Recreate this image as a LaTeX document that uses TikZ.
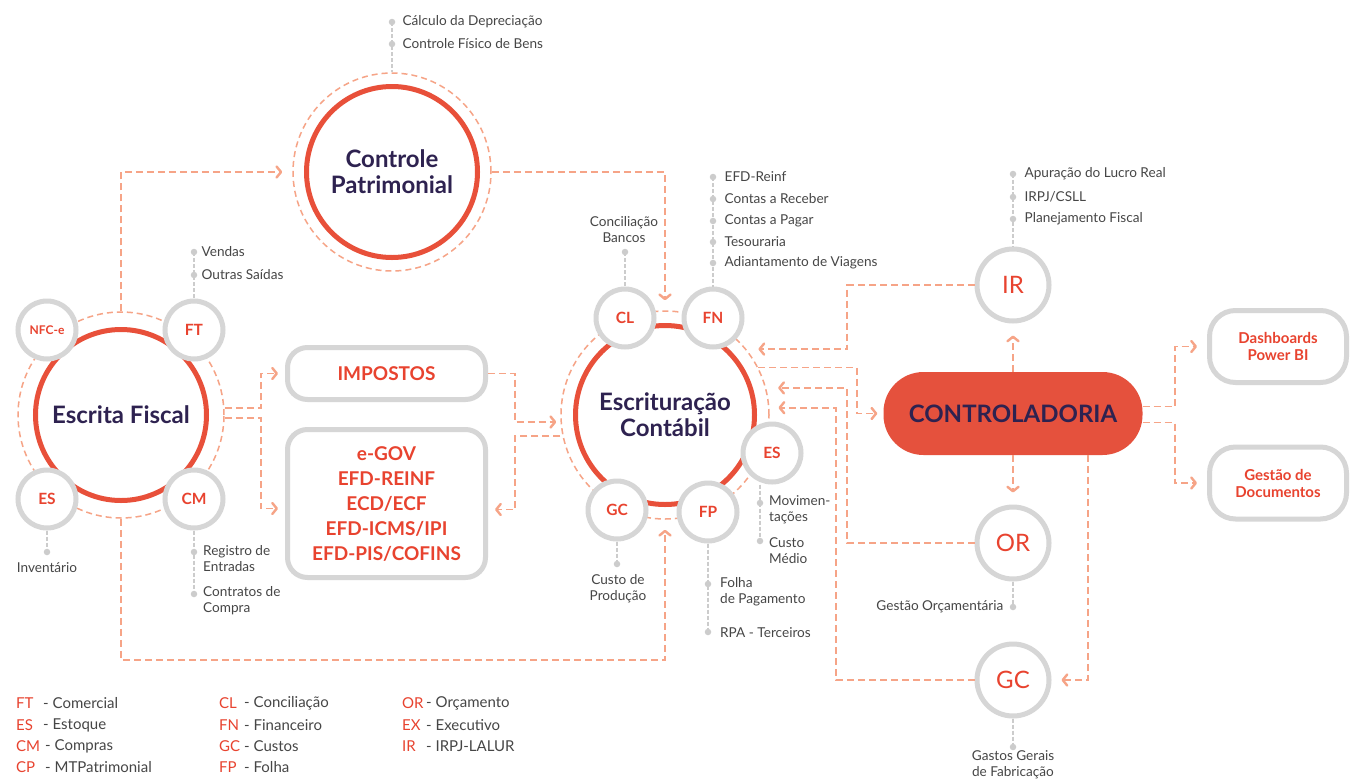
\documentclass[tikz,border=0pt]{standalone}
\usepackage{fontspec}
\setmainfont{Lato}
\usetikzlibrary{arrows.meta}
\definecolor{cred}{HTML}{E8503A}
\definecolor{cfill}{HTML}{E5513D}
\definecolor{csal}{HTML}{F6A487}
\definecolor{cring}{HTML}{D6D6D6}
\definecolor{ctxt}{HTML}{464646}
\definecolor{cpur}{HTML}{2E2250}
\definecolor{clab}{HTML}{E8432F}
\definecolor{cdot}{HTML}{CCCCCC}
\newcommand\myfs[2]{\fontsize{#1}{#2}\selectfont}
\tikzset{
 dring/.style={circle, draw=csal, line width=1.5pt, dash pattern=on 6pt off 4pt, minimum size=#1, inner sep=0pt},
 rring/.style={circle, draw=cred, line width=5pt, minimum size=#1, inner sep=0pt, text=cpur, font=\myfs{24}{26}\bfseries, align=center},
 sring/.style={circle, draw=cring, line width=5pt, fill=white, minimum size=58pt, inner sep=0pt, text=clab, font=\myfs{15.5}{17}\bfseries},
 lring/.style={circle, draw=cring, line width=5pt, fill=white, minimum size=72pt, inner sep=0pt, text=clab, font=\myfs{24}{26}},
 gbox/.style={draw=cring, line width=5pt, rounded corners=20pt, fill=white, text=clab, font=\myfs{19}{25}\bfseries, align=center, inner sep=0pt},
 conn/.style={draw=csal, line width=1.6pt, dash pattern=on 7pt off 4pt, -{Straight Barb[length=4.5pt,width=11pt,line width=2.4pt,round]}, shorten >=#1},
 conn/.default=6pt,
 glink/.style={draw=cdot, line width=1.2pt, dash pattern=on 4pt off 2pt},
 gdot/.style={circle, fill=cdot, minimum size=6.5pt, inner sep=0pt},
 lab/.style={text=ctxt, font=\myfs{13.6}{16}, inner sep=0pt, align=left},
 labc/.style={lab, align=center},
 leg/.style={font=\myfs{15}{17}, inner sep=0pt, anchor=west},
}
\begin{document}
\begin{tikzpicture}[x=1pt,y=-1pt]
\fill[white] (0,0) rectangle (1352,780);
\useasboundingbox (0,0) rectangle (1352,780);

% big rings
\node[dring=198pt] (CPo) at (392,172) {};
\node[rring=171pt] (CP) at (392,172) {Controle\\Patrimonial};
\node[dring=206pt] (EFo) at (121,415) {};
\node[rring=171pt] (EF) at (121,415) {Escrita Fiscal};
\node[dring=208pt] (ECo) at (665,415) {};
\node[rring=179pt] (EC) at (665,415) {Escrituração\\Contábil};

% boxes
\node[gbox, minimum width=198pt, minimum height=52pt] (IMP) at (386.5,373.5) {IMPOSTOS};
\node[gbox, minimum width=198pt, minimum height=148pt] (GOV) at (386.5,503.5) {e-GOV\\EFD-REINF\\ECD/ECF\\EFD-ICMS/IPI\\EFD-PIS/COFINS};
\node[fill=cfill, rounded corners=40pt, minimum width=259pt, minimum height=83pt, text=cpur, font=\myfs{24}{26}\bfseries, inner sep=0pt] (CTRL) at (1013,413.5) {CONTROLADORIA};
\node[gbox, rounded corners=26pt, minimum width=137pt, minimum height=72pt, font=\myfs{15}{17}\bfseries] (DB) at (1278,346.5) {Dashboards\\Power BI};
\node[gbox, rounded corners=26pt, minimum width=137pt, minimum height=72pt, font=\myfs{15}{17}\bfseries] (GD) at (1278,483) {Gestão de\\Documentos};

% right-side rings
\node[lring] (IR) at (1013,285) {IR};
\node[lring] (OR) at (1013,543) {OR};
\node[lring] (GC2) at (1013,680) {GC};

% buses
\coordinate (busA) at (847,0);
\coordinate (busB) at (836,0);
\coordinate (busC) at (857,0);
\coordinate (busD) at (1088,0);

% connectors
\draw[conn=10pt] (EFo.north) |- (CPo.west);
\draw[conn=10pt] (CPo.east) -| (ECo.north);
\draw[conn=10pt] (EFo.south) -- ++(0,141) -| (ECo.south);
\draw[conn=7pt] ([yshift=7pt]EFo.east) -- ++(36,0) |- (IMP.west);
\draw[conn=7pt] ([yshift=-3pt]EFo.east) -- ++(36,0) |- ([yshift=-5pt]GOV.west);
\draw[conn=4pt] (IMP.east) -- ++(27,0) |- ([yshift=-7pt]ECo.west);
\draw[conn=7pt] ([yshift=-21pt]ECo.west) -- ++(-45,0) |- ([yshift=-6pt]GOV.east);
\draw[conn=12pt] (IR.west) -- (IR.west -| busA) |- (ECo.39);
\draw[conn=6pt] (ECo.27) -- (ECo.27 -| busC) |- (CTRL.west);
\draw[conn=12pt] (OR.west) -- (OR.west -| busA) |- (ECo.15);
\draw[conn=9pt] (GC2.west) -- (GC2.west -| busB) |- (ECo.4);
\draw[conn=12pt] (CTRL.north) -- (IR.south);
\draw[conn=12pt] (CTRL.south) -- (OR.north);
\draw[conn=10pt] (CTRL.south -| busD) |- (GC2.east);
\draw[conn=10pt] ([yshift=7pt]CTRL.east) -- ++(32,0) |- (DB.west);
\draw[conn=10pt] ([yshift=-9pt]CTRL.east) -- ++(32,0) |- (GD.west);

% small rings
\node[sring, font=\myfs{12}{14}\bfseries] (NFC) at (47,330) {NFC-e};
\node[sring] (FT) at (194,330) {FT};
\node[sring] (ES1) at (47,499) {ES};
\node[sring] (CM) at (194,499) {CM};
\node[sring] (CL) at (625,318) {CL};
\node[sring] (FN) at (713,318) {FN};
\node[sring] (ES2) at (772,453) {ES};
\node[sring] (GC) at (617,510) {GC};
\node[sring] (FP) at (708,512) {FP};

% label links
\coordinate (cpd1c) at (392,22);
\coordinate (ftd1c) at (194,252);
\coordinate (esdc) at (47,552);
\coordinate (cmd2c) at (194,594);
\coordinate (cldc) at (625,252);
\coordinate (fnd1c) at (713,177);
\coordinate (esd1c) at (760,503);
\coordinate (esd2c) at (760,541);
\coordinate (gcdc) at (617,564);
\coordinate (fpd2c) at (708,632);
\coordinate (ird1c) at (1013,174);
\coordinate (ordc) at (1013,607);
\coordinate (gc2dc) at (1013,747);
\draw[glink] (cpd1c) -- (CPo.north);
\draw[glink] (ftd1c) -- (FT.north);
\draw[glink] (ES1.south) -- (esdc);
\draw[glink] (CM.south) -- (cmd2c);
\draw[glink] (cldc) -- (CL.north);
\draw[glink] (fnd1c) -- (FN.north);
\draw[glink] (ES2.south -| esd1c) -- (esd2c);
\draw[glink] (GC.south) -- (gcdc);
\draw[glink] (FP.south) -- (fpd2c);
\draw[glink] (ird1c) -- (IR.north);
\draw[glink] (OR.south) -- (ordc);
\draw[glink] (GC2.south) -- (gc2dc);

% label dots
\node[gdot] (cpd1) at (392,22) {};
\node[gdot] (cpd2) at (392,44) {};
\node[gdot] (ftd1) at (194,252) {};
\node[gdot] (ftd2) at (194,275) {};
\node[gdot] (esd) at (47,552) {};
\node[gdot] (cmd1) at (194,552) {};
\node[gdot] (cmd2) at (194,594) {};
\node[gdot] (cld) at (625,252) {};
\node[gdot] (fnd1) at (713,177) {};
\node[gdot] (fnd2) at (713,199) {};
\node[gdot] (fnd3) at (713,221) {};
\node[gdot] (fnd4) at (713,242) {};
\node[gdot] (fnd5) at (713,263) {};
\node[gdot] (esd1) at (760,503) {};
\node[gdot] (esd2) at (760,541) {};
\node[gdot] (gcd) at (617,564) {};
\node[gdot] (fpd1) at (708,584) {};
\node[gdot] (fpd2) at (708,632) {};
\node[gdot] (ird1) at (1013,174) {};
\node[gdot] (ird2) at (1013,197) {};
\node[gdot] (ird3) at (1013,219) {};
\node[gdot] (ord) at (1013,607) {};
\node[gdot] (gc2d) at (1013,747) {};

% label texts
\node[lab, anchor=west] at ([xshift=7pt]cpd1.east) {Cálculo da Depreciação};
\node[lab, anchor=west] at ([xshift=7pt]cpd2.east) {Controle Físico de Bens};
\node[lab, anchor=west] at ([xshift=4pt]ftd1.east) {Vendas};
\node[lab, anchor=west] at ([xshift=4pt]ftd2.east) {Outras Saídas};
\node[labc] at (47,568) {Inventário};
\node[lab, anchor=west] at (203,559) {Registro de\\Entradas};
\node[lab, anchor=west] at (203,601) {Contratos de\\Compra};
\node[labc] at (624,230) {Conciliação\\Bancos};
\node[lab, anchor=west] at ([xshift=8pt]fnd1.east) {EFD-Reinf};
\node[lab, anchor=west] at ([xshift=8pt]fnd2.east) {Contas a Receber};
\node[lab, anchor=west] at ([xshift=8pt]fnd3.east) {Contas a Pagar};
\node[lab, anchor=west] at ([xshift=8pt]fnd4.east) {Tesouraria};
\node[lab, anchor=west] at ([xshift=8pt]fnd5.east) {Adiantamento de Viagens};
\node[lab, anchor=west] at (769,510) {Movimen-\\tações};
\node[lab, anchor=west] at (769,551) {Custo\\Médio};
\node[labc] at (618,589) {Custo de\\Produção};
\node[lab, anchor=west] at (720,592) {Folha\\de Pagamento};
\node[lab, anchor=west] at (720,633) {RPA - Terceiros};
\node[lab, anchor=west] at ([xshift=8pt]ird1.east) {Apuração do Lucro Real};
\node[lab, anchor=west] at ([xshift=8pt]ird2.east) {IRPJ/CSLL};
\node[lab, anchor=west] at ([xshift=8pt]ird3.east) {Planejamento Fiscal};
\node[lab, anchor=east] at ([xshift=-6pt]ord.west) {Gestão Orçamentária};
\node[labc] at (1013,765) {Gastos Gerais\\de Fabricação};

% legend
\node[leg, text=clab] (lFT) at (16,703) {FT};
\node[leg, text=ctxt] at (43,703) {- Comercial};
\node[leg, text=clab] (lES) at (16,725) {ES};
\node[leg, text=ctxt] at (43,725) {- Estoque};
\node[leg, text=clab] (lCM) at (16,746) {CM};
\node[leg, text=ctxt] at (45,746) {- Compras};
\node[leg, text=clab] (lCP) at (16,767) {CP};
\node[leg, text=ctxt] at (45,767) {- MTPatrimonial};
\node[leg, text=clab] (lCL) at (219,703) {CL};
\node[leg, text=ctxt] at (244,703) {- Conciliação};
\node[leg, text=clab] (lFN) at (219,725) {FN};
\node[leg, text=ctxt] at (244,725) {- Financeiro};
\node[leg, text=clab] (lGC) at (219,746) {GC};
\node[leg, text=ctxt] at (244,746) {- Custos};
\node[leg, text=clab] (lFP) at (219,767) {FP};
\node[leg, text=ctxt] at (244,767) {- Folha};
\node[leg, text=clab] (lOR) at (402,703) {OR};
\node[leg, text=ctxt] at (426,703) {- Orçamento};
\node[leg, text=clab] (lEX) at (402,725) {EX};
\node[leg, text=ctxt] at (426,725) {- Executivo};
\node[leg, text=clab] (lIR) at (402,746) {IR};
\node[leg, text=ctxt] at (426,746) {- IRPJ-LALUR};
\end{tikzpicture}
\end{document}
